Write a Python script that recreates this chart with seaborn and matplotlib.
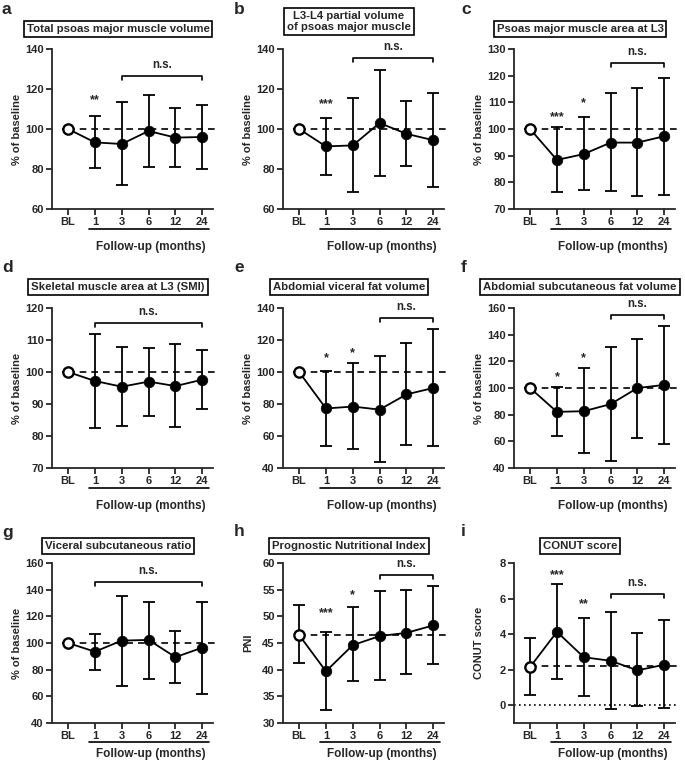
import numpy as np
import pandas as pd
import matplotlib.pyplot as plt
import seaborn as sns
from matplotlib.transforms import blended_transform_factory

sns.set_style("ticks")
plt.rcParams["font.family"] = ["Liberation Sans", "DejaVu Sans"]
plt.rcParams["font.weight"] = "bold"
plt.rcParams["axes.labelweight"] = "bold"

timepoints = ["BL", "1", "3", "6", "12", "24"]

# mean, upper and lower error limits
a_mean = [100, 93.3, 92.5, 99.0, 95.7, 96.0]
a_upper = [100, 106.5, 113.5, 117.0, 110.3, 112.2]
a_lower = [100, 80.3, 72.0, 81.2, 81.0, 79.8]

b_mean = [100, 91.3, 91.8, 103.0, 97.6, 94.4]
b_upper = [100, 105.7, 115.3, 129.4, 113.8, 117.8]
b_lower = [100, 77.2, 68.3, 76.4, 81.6, 71.2]

c_mean = [100, 88.4, 90.6, 94.9, 94.9, 97.3]
c_upper = [100, 100.6, 104.5, 113.4, 115.3, 119.1]
c_lower = [100, 76.3, 77.3, 76.9, 74.9, 75.4]

d_mean = [100, 97.2, 95.4, 97.0, 95.6, 97.6]
d_upper = [100, 112.0, 107.9, 107.4, 108.7, 106.8]
d_lower = [100, 82.4, 83.0, 86.3, 82.7, 88.5]

e_mean = [100, 77.2, 78.4, 76.5, 86.0, 90.0]
e_upper = [100, 100.6, 105.7, 109.9, 118.0, 126.8]
e_lower = [100, 53.9, 51.8, 43.6, 54.5, 53.5]

f_mean = [100, 82.1, 82.6, 87.9, 100.0, 102.3]
f_upper = [100, 100.8, 115.1, 130.7, 136.8, 146.3]
f_lower = [100, 63.7, 51.6, 45.6, 62.5, 58.0]

g_mean = [100, 93.5, 101.8, 102.3, 89.4, 96.5]
g_upper = [100, 107.0, 135.5, 131.0, 108.8, 130.5]
g_lower = [100, 80.0, 68.0, 73.3, 70.3, 62.0]

h_mean = [46.5, 39.7, 44.6, 46.3, 46.9, 48.3]
h_upper = [52.1, 47.1, 51.7, 54.7, 54.9, 55.6]
h_lower = [41.2, 32.4, 37.8, 38.1, 39.1, 41.0]

i_mean = [2.15, 4.13, 2.7, 2.5, 1.96, 2.28]
i_upper = [3.8, 6.8, 4.9, 5.25, 4.08, 4.77]
i_lower = [0.55, 1.5, 0.5, -0.2, -0.07, -0.15]

panels = [
    dict(letter="a", title="Total psoas major muscle volume", ylabel="% of baseline",
         mean=a_mean, upper=a_upper, lower=a_lower, base=100, ylim=(60, 140), step=20,
         stars=[(1, "**", 114.3)], ns=(2, 5, 126.3)),
    dict(letter="b", title="L3-L4 partial volume\nof psoas major muscle", ylabel="% of baseline",
         mean=b_mean, upper=b_upper, lower=b_lower, base=100, ylim=(60, 140), step=20,
         stars=[(1, "***", 112.6)], ns=(2, 5, 135.3)),
    dict(letter="c", title="Psoas major muscle area at L3", ylabel="% of baseline",
         mean=c_mean, upper=c_upper, lower=c_lower, base=100, ylim=(70, 130), step=10,
         stars=[(1, "***", 104.6), (2, "*", 109.6)], ns=(3, 5, 124.6)),
    dict(letter="d", title="Skeletal muscle area at L3 (SMI)", ylabel="% of baseline",
         mean=d_mean, upper=d_upper, lower=d_lower, base=100, ylim=(70, 120), step=10,
         stars=[], ns=(1, 5, 115.2)),
    dict(letter="e", title="Abdomial viceral fat volume", ylabel="% of baseline",
         mean=e_mean, upper=e_upper, lower=e_lower, base=100, ylim=(40, 140), step=20,
         stars=[(1, "*", 108.6), (2, "*", 111.7)], ns=(3, 5, 133.8)),
    dict(letter="f", title="Abdomial subcutaneous fat volume", ylabel="% of baseline",
         mean=f_mean, upper=f_upper, lower=f_lower, base=100, ylim=(40, 160), step=20,
         stars=[(1, "*", 108.3), (2, "*", 122.4)], ns=(3, 5, 155.0)),
    dict(letter="g", title="Viceral subcutaneous ratio", ylabel="% of baseline",
         mean=g_mean, upper=g_upper, lower=g_lower, base=100, ylim=(40, 160), step=20,
         stars=[], ns=(1, 5, 146.0)),
    dict(letter="h", title="Prognostic Nutritional Index", ylabel="PNI",
         mean=h_mean, upper=h_upper, lower=h_lower, base=46.5, ylim=(30, 60), step=5,
         stars=[(1, "***", 50.6), (2, "*", 54.0)], ns=(3, 5, 57.7)),
    dict(letter="i", title="CONUT score", ylabel="CONUT score",
         mean=i_mean, upper=i_upper, lower=i_lower, base=2.2, ylim=(-1, 8), step=2,
         stars=[(1, "***", 7.3), (2, "**", 5.7)], ns=(3, 5, 6.27)),
]

W, H = 685, 763
fig = plt.figure(figsize=(W / 100, H / 100), dpi=100)

col_left = [52, 283, 514]
row_top = [49, 308, 563]
ax_w, ax_h = 161, 160
title_off = [20, 21, 17]
letter_y = [10, 268, 532]
letter_x = [2, 234, 461]
line_off = [20, 20, 19]
label_off = [38, 38, 31]

x = np.arange(len(timepoints))

for k, p in enumerate(panels):
    r, c = divmod(k, 3)
    ax = fig.add_axes([col_left[c] / W, 1 - (row_top[r] + ax_h) / H, ax_w / W, ax_h / H])
    mean = np.array(p["mean"])
    yerr = [mean - np.array(p["lower"]), np.array(p["upper"]) - mean]
    ax.errorbar(x, mean, yerr=yerr, fmt="none", ecolor="black", elinewidth=1.3,
                capsize=4.5, capthick=1.3, zorder=2)
    df = pd.DataFrame({"t": x, "v": mean})
    sns.lineplot(data=df, x="t", y="v", color="black", lw=1.3, ax=ax, zorder=3)
    sns.scatterplot(data=df.iloc[1:], x="t", y="v", color="black", s=58,
                    edgecolor="black", linewidth=0.5, ax=ax, zorder=4)
    sns.scatterplot(data=df.iloc[:1], x="t", y="v", color="white", s=55,
                    edgecolor="black", linewidth=1.7, ax=ax, zorder=5)

    ax.plot([0, 5.5], [p["base"], p["base"]], color="black", lw=1.2,
            ls=(0, (4, 3)), zorder=1, clip_on=False)
    if p["letter"] == "i":
        ax.plot([-0.6, 5.5], [0, 0], color="black", lw=1.2, ls=(0, (1, 2)),
                zorder=1, clip_on=False)

    lo, hi = p["ylim"]
    ax.set_xlim(-0.6, 5.4)
    ax.set_ylim(lo, hi)
    ax.set_yticks(np.arange(max(lo, 0) if p["letter"] == "i" else lo, hi + 0.01, p["step"]))
    ax.set_xticks(x, timepoints)
    sns.despine(ax=ax)
    for s in ["left", "bottom"]:
        ax.spines[s].set_linewidth(1.3)
    ax.tick_params(direction="out", length=4, width=1.3, labelsize=8, pad=2)
    for lab in ax.get_xticklabels() + ax.get_yticklabels():
        lab.set_fontweight("bold")
    ax.set_xlabel("")
    ax.set_ylabel(p["ylabel"], fontsize=8, fontweight="bold")
    ax.yaxis.set_label_coords(-0.185, 0.5)

    px = (hi - lo) / ax_h
    for xi, s, yv in p["stars"]:
        ax.text(xi, yv, s, ha="center", va="center", fontsize=9, fontweight="bold")
    x1, x2, yb = p["ns"]
    ax.plot([x1, x1, x2, x2], [yb - 4 * px, yb, yb, yb - 4 * px], color="black",
            lw=1.2, clip_on=False)
    ax.text((x1 + x2) / 2, yb + 11 * px, "n.s.", ha="center", va="center",
            fontsize=8.3, fontweight="bold")

    trans = blended_transform_factory(ax.transData, ax.transAxes)
    ax.plot([0.78, 5.26], [-line_off[r] / ax_h] * 2, color="black", lw=1.2,
            transform=trans, clip_on=False)
    ax.text(3.1, -label_off[r] / ax_h, "Follow-up (months)", transform=trans,
            ha="center", va="center", fontsize=8.5, fontweight="bold")

    toff = 27.5 if p["letter"] == "b" else title_off[r]
    ax.text(0.41, 1 + toff / ax_h, p["title"], transform=ax.transAxes, ha="center",
            va="center", fontsize=8.2, fontweight="bold", linespacing=1.1,
            bbox=dict(boxstyle="square,pad=0.25", fc="white", ec="black", lw=1.2))

    fig.text(letter_x[c] / W, 1 - letter_y[r] / H, p["letter"], ha="left",
             va="center", fontsize=12.5, fontweight="bold")

fig.savefig("out.png", dpi=100)
